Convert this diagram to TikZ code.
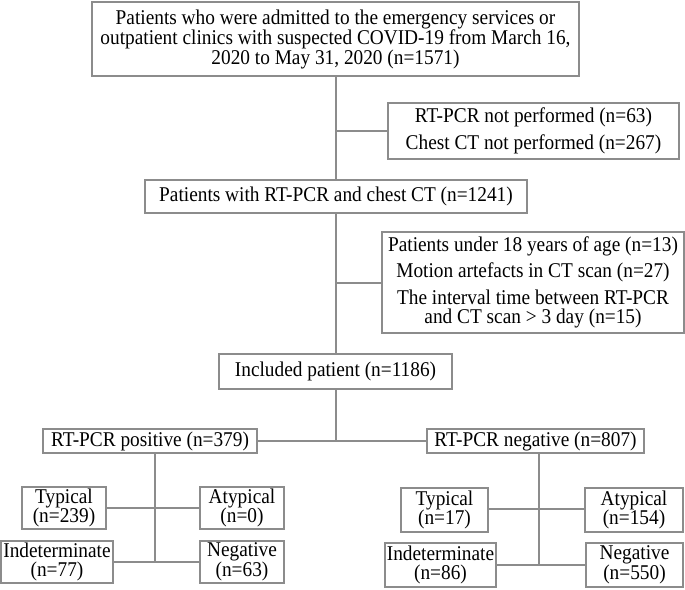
\documentclass[tikz,border=0pt]{standalone}
\usepackage{fontspec}
\setmainfont{Liberation Serif}[FakeStretch=0.92]
\setlength{\lineskiplimit}{-30pt}
\begin{document}
\begin{tikzpicture}[x=1pt,y=-1pt,
  box/.style={draw=boxgray, line width=1.6pt, inner sep=0pt, align=center, text=black,
    font=\fontsize{21}{20}\selectfont},
  conn/.style={draw=boxgray, line width=1.6pt}]
\definecolor{boxgray}{RGB}{140,140,140}
\useasboundingbox (0,0) rectangle (685,589);
% main column
\node[box, minimum width=487pt, minimum height=74pt] (top) at (335.5,39)
  {Patients who were admitted to the emergency services or\\outpatient clinics with suspected COVID-19 from March 16,\\2020 to May 31, 2020 (n=1571)};
\node[box, minimum width=291pt, minimum height=56pt] (ex1) at (533.5,131)
  {RT-PCR not performed (n=63)\\[7.4pt]Chest CT not performed (n=267)};
\node[box, minimum width=382pt, minimum height=33pt] (b2) at (336,196.5)
  {Patients with RT-PCR and chest CT (n=1241)};
\node[box, minimum width=302pt, minimum height=101pt] (ex2) at (533,282.5)
  {Patients under 18 years of age (n=13)\\[6.5pt]Motion artefacts in CT scan (n=27)\\[6.5pt]The interval time between RT-PCR\\[-0.5pt]and CT scan > 3 day (n=15)};
\node[box, minimum width=233pt, minimum height=35pt] (inc) at (335.5,371.5)
  {Included patient (n=1186)};
\node[box, minimum width=214pt, minimum height=24pt] (pos) at (150,441)
  {RT-PCR positive (n=379)};
\node[box, minimum width=217pt, minimum height=24pt] (neg) at (535.5,441)
  {RT-PCR negative (n=807)};
% positive subgroups
\node[box, minimum width=84pt, minimum height=42pt] (pT) at (64,508) {Typical\\[-0.5pt](n=239)};
\node[box, minimum width=84pt, minimum height=42pt] (pA) at (242,508) {Atypical\\[-0.5pt](n=0)};
\node[box, minimum width=112pt, minimum height=42pt] (pI) at (57,562) {Indeterminate\\[-0.5pt](n=77)};
\node[box, minimum width=84pt, minimum height=42pt] (pN) at (242,562) {Negative\\[-0.5pt](n=63)};
% negative subgroups
\node[box, minimum width=87pt, minimum height=44pt] (nT) at (444.5,510) {Typical\\[-0.5pt](n=17)};
\node[box, minimum width=98pt, minimum height=44pt] (nA) at (634,510) {Atypical\\[-0.5pt](n=154)};
\node[box, minimum width=111pt, minimum height=44pt] (nI) at (440.5,565) {Indeterminate\\[-0.5pt](n=86)};
\node[box, minimum width=97pt, minimum height=44pt] (nN) at (634.5,565) {Negative\\[-0.5pt](n=550)};
% junctions
\coordinate (j1) at (336,131);
\coordinate (j2) at (336,283);
\coordinate (j3) at (336,441);
\coordinate (pv) at (155,508);
\coordinate (pb) at (155,562);
\coordinate (nv) at (539,509);
\coordinate (nb) at (539,565);
% connectors
\draw[conn] (top.south -| j1) -- (b2.north -| j1);
\draw[conn] (j1) -- (ex1.west);
\draw[conn] (b2.south -| j2) -- (inc.north -| j2);
\draw[conn] (j2) -- (ex2.west |- j2);
\draw[conn] (inc.south -| j3) -- (j3);
\draw[conn] (pos.east) -- (neg.west);
\draw[conn] (pos.south -| pv) -- (pb);
\draw[conn] (pT.east) -- (pA.west);
\draw[conn] (pI.east) -- (pN.west);
\draw[conn] (neg.south -| nv) -- (nb);
\draw[conn] (nT.east |- nv) -- (nA.west |- nv);
\draw[conn] (nI.east) -- (nN.west);
\end{tikzpicture}
\end{document}
